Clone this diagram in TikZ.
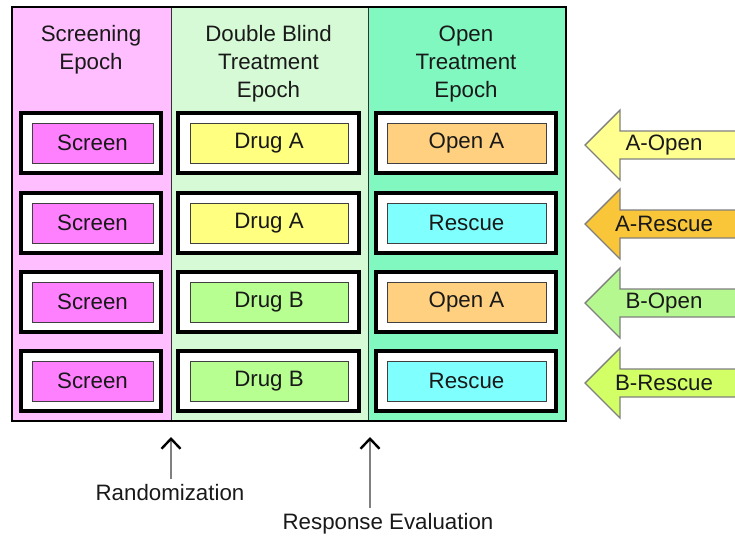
\documentclass[tikz,border=0pt]{standalone}
\usepackage{fontspec}
\setmainfont{Liberation Sans}
\usetikzlibrary{arrows.meta}
\definecolor{screencol}{HTML}{FFBEFF}
\definecolor{blindcol}{HTML}{D6FAD6}
\definecolor{opencol}{HTML}{80F8C0}
\definecolor{screenbox}{HTML}{FF80FF}
\definecolor{drugabox}{HTML}{FFFF80}
\definecolor{drugbbox}{HTML}{B6FF90}
\definecolor{openabox}{HTML}{FFD080}
\definecolor{rescuebox}{HTML}{80FFFF}
\definecolor{aopen}{HTML}{FFFF90}
\definecolor{arescue}{HTML}{F8C638}
\definecolor{bopen}{HTML}{B6F890}
\definecolor{brescue}{HTML}{D2FF66}
\tikzset{
  txt/.style={font=\fontsize{22.3}{28}\selectfont, text=black!90},
  frame/.style={draw=black, line width=3.8pt, fill=white, minimum height=60pt},
  inbox/.style={draw=black!75, line width=1pt, minimum height=40pt, txt},
  hdr/.style={txt, align=center, anchor=north},
  blockarrow/.style={draw=black!50, line width=1.4pt, line join=miter},
  marker/.style={draw=black!50, line width=2pt, -{Straight Barb[color=black,length=10pt,width=19pt,line width=2.4pt]}},
}
\begin{document}
\begin{tikzpicture}[x=1pt, y=-1pt]
\useasboundingbox (0,0) rectangle (735,536);

% epoch columns
\fill[screencol] (12,7) rectangle (171,421);
\fill[blindcol] (171,7) rectangle (368,421);
\fill[opencol] (368,7) rectangle (566,421);
\draw[black!80, line width=1pt] (171,7) -- (171,421) (368,7) -- (368,421);
\draw[black, line width=1.5pt] (12,7) rectangle (566,421);

% column headings
\node[hdr] (h1) at (91,22) {Screening\\Epoch};
\node[hdr] (h2) at (268.5,22) {Double Blind\\Treatment\\Epoch};
\node[hdr] (h3) at (466,22) {Open\\Treatment\\Epoch};

% treatment sequences, one row per arm
\foreach \y/\dr/\drc/\op/\opc [count=\i] in {
  143/Drug A/drugabox/Open A/openabox,
  223/Drug A/drugabox/Rescue/rescuebox,
  302/Drug B/drugbbox/Open A/openabox,
  381/Drug B/drugbbox/Rescue/rescuebox}{
  \node[frame, minimum width=140pt] (s\i) at (91,\y) {};
  \node[inbox, fill=screenbox, minimum width=121pt] (si\i) at (92.5,\y) {Screen};
  \node[frame, minimum width=181pt] (d\i) at (268.5,\y) {};
  \node[inbox, fill=\drc, minimum width=158pt] (di\i) at (269,\y) {\dr};
  \node[frame, minimum width=180pt] (o\i) at (466,\y) {};
  \node[inbox, fill=\opc, minimum width=159pt] (oi\i) at (466.5,\y) {\op};
}

% arm labels as block arrows
\begin{scope}
\clip (0,0) rectangle (735,536);
\foreach \y/\lab/\c [count=\i] in {
  145/A-Open/aopen, 224/A-Rescue/arescue, 303/B-Open/bopen, 383/B-Rescue/brescue}{
  \draw[blockarrow, fill=\c] (585,\y) -- (620,\y-35) -- (620,\y-14) -- (740,\y-14)
        -- (740,\y+14) -- (620,\y+14) -- (620,\y+35) -- cycle;
  \node[txt] (arm\i) at (664,\y) {\lab};
}
\end{scope}

% milestones
\node[txt] (rand) at (170,493) {Randomization};
\node[txt] (resp) at (388,524) {Response Evaluation};
\coordinate (randtip) at (171,437);
\coordinate (resptip) at (370,437);
\draw[marker] (rand.north -| randtip) ++(0,-2) -- (randtip);
\draw[marker] (resp.north -| resptip) ++(0,-2) -- (resptip);
\end{tikzpicture}
\end{document}
